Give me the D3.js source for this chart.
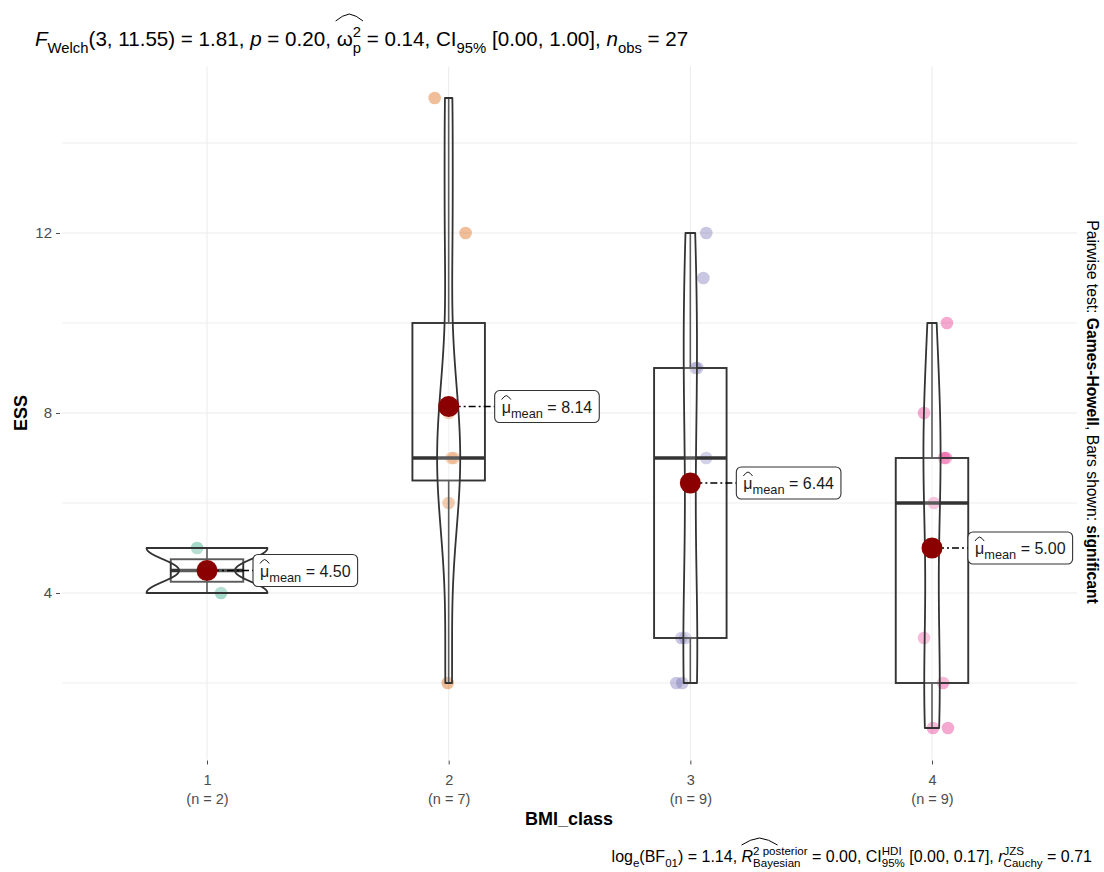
<!DOCTYPE html>
<html><head><meta charset="utf-8">
<script src="https://cdn.jsdelivr.net/npm/d3@7"></script>
<style>
body{margin:0;background:#fff;}
svg text{font-family:"Liberation Sans",Arial,sans-serif;white-space:pre;}
</style>
</head><body>
<svg id="chart" width="1104" height="872"></svg>
<script>
// ---------------- data ----------------
const categories = ["1", "2", "3", "4"];
const groupCounts = ["(n = 2)", "(n = 7)", "(n = 9)", "(n = 9)"];
const essG1 = [5, 4];
const essG2 = [15, 12, 7, 7, 8, 6, 2];
const essG3 = [12, 11, 9, 9, 7, 3, 3, 2, 2];
const essG4 = [10, 8, 7, 7, 6, 3, 2, 1, 1];
// horizontal jitter of each point (fraction of category step)
const jitterG1 = [-0.041, 0.058];
const jitterG2 = [-0.058, 0.070, 0.021, 0.012, 0.0, 0.0, -0.004];
const jitterG3 = [0.066, 0.054, 0.021, 0.029, 0.066, -0.037, -0.021, -0.058, -0.033];
const jitterG4 = [0.062, -0.033, 0.050, 0.058, 0.008, -0.033, 0.046, 0.004, 0.066];
const groupColors = ["#1B9E77", "#D95F02", "#7570B3", "#E7298A"];
const yMajorTicks = [4, 8, 12];
const yMinorTicks = [2, 6, 10, 14];
const labelNudge = [46, 46, 46, 36];

const groups = [essG1, essG2, essG3, essG4];
const jitters = [jitterG1, jitterG2, jitterG3, jitterG4];

// ---------------- layout ----------------
const svg = d3.select("#chart");
const panel = {left: 62, right: 1077, top: 66.5, bottom: 759.5};
const x = d3.scalePoint().domain(categories).range([panel.left, panel.right]).padding(0.6);
const y = d3.scaleLinear().domain([0.3, 15.7]).range([panel.bottom, panel.top]);
const step = x.step();
const FONT = "'Liberation Sans',Arial,sans-serif";

// grid
const grid = svg.append("g");
grid.selectAll("line.hmin").data(yMinorTicks).join("line")
  .attr("x1", panel.left).attr("x2", panel.right)
  .attr("y1", d => y(d)).attr("y2", d => y(d))
  .attr("stroke", "#EBEBEB").attr("stroke-width", 0.9);
grid.selectAll("line.hmaj").data(yMajorTicks).join("line")
  .attr("x1", panel.left).attr("x2", panel.right)
  .attr("y1", d => y(d)).attr("y2", d => y(d))
  .attr("stroke", "#EBEBEB").attr("stroke-width", 1);
grid.selectAll("line.v").data(categories).join("line")
  .attr("x1", d => x(d)).attr("x2", d => x(d))
  .attr("y1", panel.top).attr("y2", panel.bottom)
  .attr("stroke", "#EBEBEB").attr("stroke-width", 1);

// axes
const yAxis = svg.append("g").attr("transform", `translate(${panel.left - 2},0)`)
  .call(d3.axisLeft(y).tickValues(yMajorTicks).tickSize(4).tickPadding(4));
yAxis.select(".domain").remove();
yAxis.selectAll(".tick line").attr("stroke", "#4D4D4D");
yAxis.selectAll(".tick text").attr("fill", "#4D4D4D").attr("font-size", 15)
  .style("font-family", FONT);

const xAxis = svg.append("g").attr("transform", `translate(0,${panel.bottom + 1})`)
  .call(d3.axisBottom(x).tickSize(4).tickPadding(3));
xAxis.select(".domain").remove();
xAxis.selectAll(".tick line").attr("stroke", "#4D4D4D");
xAxis.selectAll(".tick text").remove();
xAxis.selectAll(".tick").each(function(d, i) {
  const t = d3.select(this);
  t.append("text").attr("x", 0).attr("y", 24).attr("text-anchor", "middle")
    .attr("fill", "#4D4D4D").attr("font-size", 14.5).style("font-family", FONT).text(d);
  t.append("text").attr("x", 0).attr("y", 43).attr("text-anchor", "middle")
    .attr("fill", "#4D4D4D").attr("font-size", 14.5).style("font-family", FONT).text(groupCounts[i]);
});

// axis titles
svg.append("text").attr("x", 569).attr("y", 825).attr("text-anchor", "middle")
  .attr("font-size", 18).attr("font-weight", "bold").attr("fill", "#000").text("BMI_class");
svg.append("text").attr("transform", "translate(27,413) rotate(-90)").attr("text-anchor", "middle")
  .attr("font-size", 18).attr("font-weight", "bold").attr("fill", "#000").text("ESS");

// ---------------- stats ----------------
function kde(vals) {
  const n = vals.length;
  const sd = d3.deviation(vals);
  const iqr = d3.quantile(vals, 0.75) - d3.quantile(vals, 0.25);
  let lo = Math.min(sd, iqr / 1.34);
  if (!(lo > 0)) lo = sd || 1;
  const bw = 0.9 * lo * Math.pow(n, -0.2);
  const mn = d3.min(vals), mx = d3.max(vals);
  return d3.range(512).map(i => {
    const v = mn + (mx - mn) * i / 511;
    const dens = d3.sum(vals, xi => Math.exp(-0.5 * ((v - xi) / bw) ** 2) / Math.sqrt(2 * Math.PI)) / (n * bw);
    return {v, dens};
  });
}
const densities = groups.map(kde);
const maxDens = d3.max(densities, ds => d3.max(ds, d => d.dens));

// ---------------- points ----------------
const pointsG = svg.append("g");
groups.forEach((vals, gi) => {
  pointsG.selectAll(null).data(vals).join("circle")
    .attr("cx", (d, i) => x(categories[gi]) + jitters[gi][i] * step)
    .attr("cy", d => y(d))
    .attr("r", 6.3)
    .attr("fill", groupColors[gi]).attr("fill-opacity", 0.4);
});

// ---------------- boxes ----------------
const boxG = svg.append("g");
const boxHalf = 0.3 * step / 2;
groups.forEach((vals, gi) => {
  const s = vals.slice().sort(d3.ascending);
  const q1 = d3.quantile(s, 0.25), med = d3.quantile(s, 0.5), q3 = d3.quantile(s, 0.75);
  const iqr = q3 - q1;
  const wLo = d3.min(s.filter(v => v >= q1 - 1.5 * iqr));
  const wHi = d3.max(s.filter(v => v <= q3 + 1.5 * iqr));
  const cx = x(categories[gi]);
  boxG.append("line").attr("x1", cx).attr("x2", cx).attr("y1", y(q3)).attr("y2", y(wHi))
    .attr("stroke", "#333").attr("stroke-width", 1.6);
  boxG.append("line").attr("x1", cx).attr("x2", cx).attr("y1", y(q1)).attr("y2", y(wLo))
    .attr("stroke", "#333").attr("stroke-width", 1.6);
  boxG.append("rect").attr("x", cx - boxHalf).attr("width", 2 * boxHalf)
    .attr("y", y(q3)).attr("height", y(q1) - y(q3))
    .attr("fill", "#fff").attr("fill-opacity", 0.2)
    .attr("stroke", "#333").attr("stroke-width", 1.9);
  boxG.append("line").attr("x1", cx - boxHalf).attr("x2", cx + boxHalf)
    .attr("y1", y(med)).attr("y2", y(med))
    .attr("stroke", "#333").attr("stroke-width", 3.4);
});

// ---------------- violins ----------------
const violG = svg.append("g");
const violHalf = 0.5 * step / 2;
densities.forEach((ds, gi) => {
  const cx = x(categories[gi]);
  const area = d3.area()
    .y(d => y(d.v))
    .x0(d => cx - d.dens / maxDens * violHalf)
    .x1(d => cx + d.dens / maxDens * violHalf);
  violG.append("path").attr("d", area(ds))
    .attr("fill", "#fff").attr("fill-opacity", 0.2)
    .attr("stroke", "#333").attr("stroke-width", 1.8).attr("stroke-linejoin", "round");
});

// ---------------- rich text helper ----------------
function richText(parent, segs, x0, y0, base, color) {
  const g = parent.append("g");
  let cx = x0, prevStart = x0, prevW = 0;
  const pos = [];
  segs.forEach(seg => {
    const small = seg.sub || seg.sup;
    const size = base * (small ? (seg.scale || 0.72) : 1);
    const dy = seg.sub ? base * 0.32 : (seg.sup ? -base * 0.45 : 0);
    const sx = seg.stack ? prevStart : cx;
    const t = g.append("text").attr("x", sx).attr("y", y0 + dy)
      .attr("font-size", size).attr("fill", color || "#000")
      .attr("font-style", seg.italic ? "italic" : "normal")
      .attr("font-weight", seg.bold ? "bold" : "normal")
      .text(seg.t);
    const w = t.node().getComputedTextLength();
    if (seg.stack) {
      cx = prevStart + Math.max(prevW, w);
    } else {
      prevStart = sx; prevW = w; cx = sx + w;
    }
    pos.push({start: sx, end: cx});
  });
  segs.forEach((seg, i) => {
    if (seg.hat) {
      const a = pos[i].start - seg.hat.padL, b = pos[i + seg.hat.span - 1].end + seg.hat.padR;
      const yb = y0 - seg.hat.low, yt = y0 - seg.hat.high;
      const m = (a + b) / 2;
      g.append("path")
        .attr("d", `M${a},${yb} Q${(a + m) / 2},${yt + (yb - yt) * 0.15} ${m},${yt} Q${(m + b) / 2},${yt + (yb - yt) * 0.15} ${b},${yb}`)
        .attr("fill", "none").attr("stroke", color || "#000").attr("stroke-width", 1);
    }
  });
  return {g, width: cx - x0};
}

// ---------------- mean markers & labels ----------------
const meanG = svg.append("g");
groups.forEach((vals, gi) => {
  const m = d3.mean(vals);
  const cx = x(categories[gi]);
  const cy = y(m);
  const lx = cx + labelNudge[gi];
  meanG.append("line").attr("x1", cx).attr("x2", lx).attr("y1", cy).attr("y2", cy)
    .attr("stroke", "#000").attr("stroke-width", 1.6).attr("stroke-dasharray", "2,3,7,3");
  meanG.append("circle").attr("cx", cx).attr("cy", cy).attr("r", 10.5).attr("fill", "#8B0000");
  const lab = meanG.append("g");
  const rect = lab.append("rect");
  const rt = richText(lab, [
    {t: "μ", hat: {span: 1, padL: 0, padR: 0, low: 13, high: 17}},
    {t: "mean", sub: true, scale: 0.8},
    {t: " = " + m.toFixed(2)}
  ], lx + 7, cy + 6, 16, "#1a1a1a");
  rect.attr("x", lx).attr("y", cy - 16).attr("width", rt.width + 14).attr("height", 32)
    .attr("rx", 5).attr("fill", "#fff").attr("stroke", "#333").attr("stroke-width", 1.1);
});

// ---------------- title (subtitle) ----------------
richText(svg, [
  {t: "F", italic: true},
  {t: "Welch", sub: true},
  {t: "(3, 11.55) = 1.81, "},
  {t: "p", italic: true},
  {t: " = 0.20, "},
  {t: "ω", hat: {span: 3, padL: 1, padR: 2, low: 25, high: 32}},
  {t: "2", sup: true},
  {t: "p", sub: true, stack: true},
  {t: " = 0.14, CI"},
  {t: "95%", sub: true},
  {t: " [0.00, 1.00], "},
  {t: "n", italic: true},
  {t: "obs", sub: true},
  {t: " = 27"}
], 35, 46, 20.6, "#000");

// ---------------- caption ----------------
const capSegs = [
  {t: "log"},
  {t: "e", sub: true},
  {t: "(BF"},
  {t: "01", sub: true},
  {t: ") = 1.14, "},
  {t: "R", italic: true, hat: {span: 2, padL: 0, padR: -30, low: 17, high: 24}},
  {t: "2 posterior", sup: true},
  {t: "Bayesian", sub: true, stack: true},
  {t: " = 0.00, CI"},
  {t: "HDI", sup: true},
  {t: "95%", sub: true, stack: true},
  {t: " [0.00, 0.17], "},
  {t: "r", italic: true},
  {t: "JZS", sup: true},
  {t: "Cauchy", sub: true, stack: true},
  {t: " = 0.71"}
];
const capTmp = richText(svg, capSegs, 0, -100, 16, "#000");
const capW = capTmp.width;
capTmp.g.remove();
richText(svg, capSegs, 1092 - capW, 862, 16, "#000");

// ---------------- right side text ----------------
const side = svg.append("text").attr("transform", "translate(1087,412) rotate(90)")
  .attr("text-anchor", "middle").attr("font-size", 15.7).attr("fill", "#000");
side.append("tspan").text("Pairwise test: ");
side.append("tspan").attr("font-weight", "bold").text("Games-Howell");
side.append("tspan").text(", Bars shown: ");
side.append("tspan").attr("font-weight", "bold").text("significant");
</script>
</body></html>
